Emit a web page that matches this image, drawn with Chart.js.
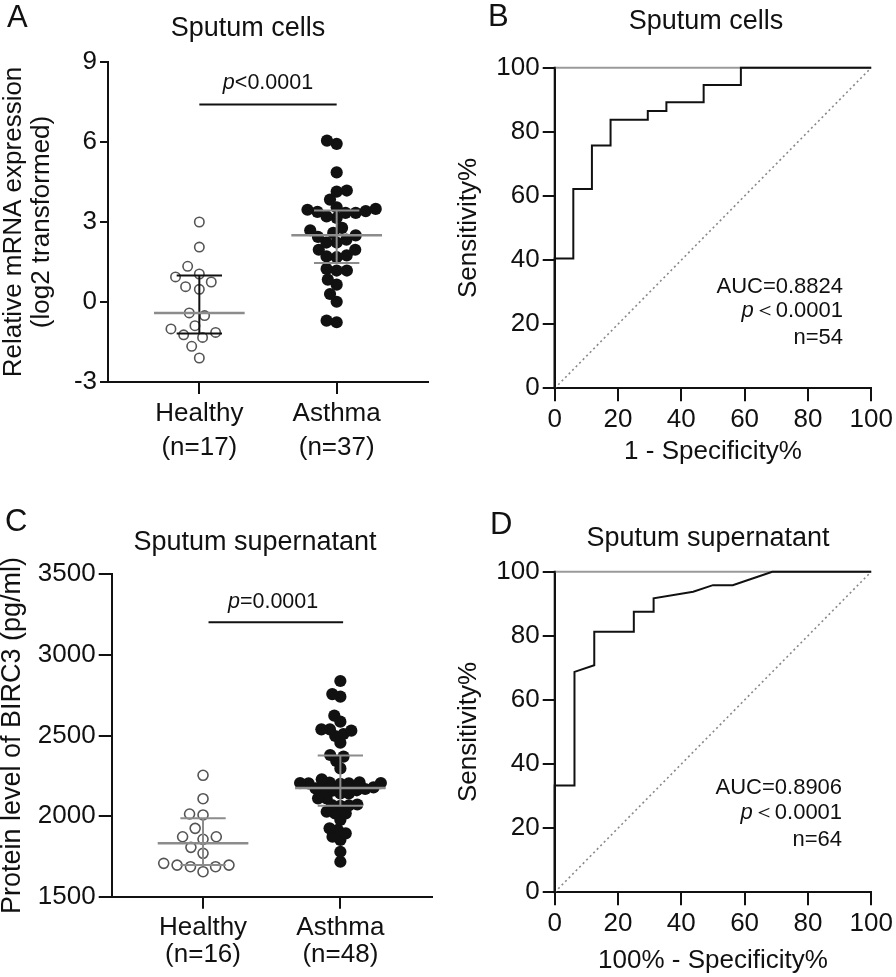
<!DOCTYPE html>
<html>
<head>
<meta charset="utf-8">
<script src="https://cdn.jsdelivr.net/npm/chart.js@4.4.1/dist/chart.umd.min.js"></script>
<style>
  html, body { margin: 0; padding: 0; background: #fff; }
  #page { position: relative; width: 896px; height: 977px; overflow: hidden;
          font-family: 'Liberation Sans', Arial, Helvetica, sans-serif; color: #111; }
  #page canvas { position: absolute; }
  .txt { position: absolute; white-space: nowrap; line-height: 1; }
  .letter { font-size: 31px; }
  .title { font-size: 27px; transform: translateX(-50%); }
</style>
</head>
<body>
<div id="page">
  <canvas id="chartA" width="448" height="490" style="left:0;top:0"></canvas>
  <canvas id="chartB" width="448" height="490" style="left:448px;top:0"></canvas>
  <canvas id="chartC" width="448" height="487" style="left:0;top:490px"></canvas>
  <canvas id="chartD" width="448" height="487" style="left:448px;top:490px"></canvas>

  <div class="txt letter" style="left:7px;top:0.5px">A</div>
  <div class="txt letter" style="left:488px;top:0.3px">B</div>
  <div class="txt letter" style="left:5px;top:504.8px">C</div>
  <div class="txt letter" style="left:490px;top:507.8px">D</div>

  <div class="txt title" style="left:248px;top:13.8px">Sputum cells</div>
  <div class="txt title" style="left:706px;top:7.1px">Sputum cells</div>
  <div class="txt title" style="left:255px;top:528.1px">Sputum supernatant</div>
  <div class="txt title" style="left:708px;top:523.6px">Sputum supernatant</div>
</div>

<script>
const FONT = "'Liberation Sans', Arial, Helvetica, sans-serif"
Chart.defaults.font.family = FONT
Chart.defaults.color = '#111'
Chart.defaults.animation = false

// ---------- data ----------
// A: relative BIRC3 mRNA in sputum cells (log2)
const groupLabelsA = [['Healthy', '(n=17)'], ['Asthma', '(n=37)']]
const healthyA = [3.0, 2.06, 1.34, 1.05, 0.94, 0.75, 0.575, 0.475, -0.41, -0.51,
  -0.89, -1.01, -1.14, -1.23, -1.33, -1.66, -2.1]
const asthmaA = [6.05, 5.93, 4.86, 4.18, 4.14, 3.84, 3.55, 3.49, 3.46, 3.41, 3.38,
  3.34, 3.34, 3.21, 3.15, 2.78, 2.69, 2.59, 2.5, 2.44, 2.34, 2.23, 2.23, 1.96, 1.96,
  1.75, 1.71, 1.68, 1.24, 1.18, 1.18, 0.84, 0.65, 0.3, 0.01, -0.7, -0.76]
const pLabelA = 'p<0.0001'

// B: ROC, sputum cells
const rocFprB = [0, 0, 5.88, 5.88, 11.76, 11.76, 17.65, 17.65, 29.41, 29.41, 35.29, 35.29,
  47.06, 47.06, 58.82, 58.82, 100]
const rocTprB = [0, 40.5, 40.5, 62.2, 62.2, 75.7, 75.7, 83.8, 83.8, 86.5, 86.5, 89.2,
  89.2, 94.6, 94.6, 100, 100]
const statsB = ['AUC=0.8824', '＜0.0001', 'n=54']

// C: BIRC3 protein in sputum supernatant (pg/ml)
const groupLabelsC = [['Healthy', '(n=16)'], ['Asthma', '(n=48)']]
const healthyC = [2253, 2108, 2013, 2007, 1924, 1872, 1872, 1856, 1806, 1769, 1707,
  1696, 1696, 1686, 1686, 1655]
const asthmaC = [2838, 2757, 2741, 2623, 2586, 2538, 2538, 2530, 2509, 2497, 2455,
  2379, 2369, 2342, 2296, 2228, 2205, 2203, 2200, 2208, 2210, 2205, 2203,
  2178, 2172, 2165, 2160, 2168, 2158, 2141, 2141, 2110, 2110,
  2069, 2066, 2072, 2064, 2027, 2017, 2017, 1976, 1924, 1914, 1893, 1872, 1852, 1779, 1717]
const pLabelC = '=0.0001'

// D: ROC, sputum supernatant
const rocFprD = [0, 0, 6.25, 6.25, 12.5, 12.5, 25, 25, 31.25, 31.25, 43.75, 50, 56.25,
  62.5, 68.75, 100]
const rocTprD = [0, 33.3, 33.3, 68.75, 70.8, 81.25, 81.25, 87.5, 87.5, 91.7, 93.75, 95.8,
  95.8, 97.9, 100, 100]
const statsD = ['AUC=0.8906', '＜0.0001', 'n=64']

// ---------- helpers ----------
const INK = '#111'
const GREY = '#8c8c8c'

// (n+1)p percentile, as GraphPad Prism does it
function quantile(sorted, p) {
  const pos = (sorted.length + 1) * p
  const lo = Math.floor(pos)
  if (lo < 1) return sorted[0]
  if (lo >= sorted.length) return sorted[sorted.length - 1]
  return sorted[lo - 1] + (pos - lo) * (sorted[lo] - sorted[lo - 1])
}

// simple beeswarm: each dot goes as near the group centre as it can without overlap
function swarm(values, center, pxPerX, pxPerY, diam) {
  const placed = []
  values.slice().sort((a, b) => a - b).forEach(v => {
    const py = v * pxPerY
    const near = placed.filter(p => Math.abs(p.py - py) < diam)
    const cands = [0]
    near.forEach(p => {
      const dx = Math.sqrt(diam * diam - (p.py - py) ** 2)
      cands.push(p.px + dx, p.px - dx)
    })
    cands.sort((a, b) => Math.abs(a) - Math.abs(b) || a - b)
    const px = cands.find(c => near.every(p => (p.px - c) ** 2 + (p.py - py) ** 2 >= diam * diam - 0.01))
    placed.push({ px, py, v })
  })
  return placed.map(p => ({ x: center + p.px / pxPerX, y: p.v }))
}

function summaryLines(values, c) {
  const s = values.slice().sort((a, b) => a - b)
  const med = quantile(s, 0.5), q1 = quantile(s, 0.25), q3 = quantile(s, 0.75)
  return {
    median: [{ x: c - 0.33, y: med }, { x: c + 0.33, y: med }],
    iqr: [{ x: c - 0.165, y: q3 }, { x: c + 0.165, y: q3 }, { x: c, y: null },
          { x: c, y: q3 }, { x: c, y: q1 }, { x: c, y: null },
          { x: c - 0.165, y: q1 }, { x: c + 0.165, y: q1 }]
  }
}

function lineDs(data, color, width, extra) {
  return Object.assign({ data, showLine: true, borderColor: color, borderWidth: width,
    pointRadius: 0, fill: false, spanGaps: false, tension: 0 }, extra || {})
}

// draws significance bars, the small stats texts and (for the ROC panels) the y axis line
const notes = {
  id: 'notes',
  afterDatasetsDraw(chart, args, opts) {
    const { ctx, chartArea, scales: { x, y } } = chart
    ctx.save()
    if (opts.leftAxis) {
      ctx.strokeStyle = INK
      ctx.lineWidth = 2
      ctx.beginPath()
      ctx.moveTo(chartArea.left, chartArea.top - 1)
      ctx.lineTo(chartArea.left, chartArea.bottom + 1)
      ctx.stroke()
    }
    ;(opts.bars || []).forEach(b => {
      ctx.strokeStyle = INK
      ctx.lineWidth = 2
      ctx.beginPath()
      ctx.moveTo(x.getPixelForValue(b.from), y.getPixelForValue(b.at))
      ctx.lineTo(x.getPixelForValue(b.to), y.getPixelForValue(b.at))
      ctx.stroke()
    })
    ;(opts.texts || []).forEach(t => {
      const fonts = t.parts.map(p => (p[1] ? 'italic ' : '') + t.size + 'px ' + FONT)
      const widths = t.parts.map((p, i) => { ctx.font = fonts[i]; return ctx.measureText(p[0]).width })
      const total = widths.reduce((a, b) => a + b, 0)
      let px = x.getPixelForValue(t.x)
      if (t.align === 'center') px -= total / 2
      if (t.align === 'right') px -= total
      const py = y.getPixelForValue(t.y)
      ctx.fillStyle = INK
      ctx.textAlign = 'left'
      ctx.textBaseline = 'alphabetic'
      t.parts.forEach((p, i) => { ctx.font = fonts[i]; ctx.fillText(p[0], px, py); px += widths[i] })
    })
    ctx.restore()
  }
}

function axisBase(tickLen) {
  return {
    grid: { drawOnChartArea: false, drawTicks: true, tickLength: tickLen, color: INK, lineWidth: 2 },
    border: { display: true, color: INK, width: 2 }
  }
}

// ---------- dot plots (A, C) ----------
function dotChart(id, cfg) {
  const xMin = 0.335, xMax = 2.665
  const pxX = 320 / (xMax - xMin)
  const pxY = cfg.plotH / (cfg.yMax - cfg.yMin)
  const h = summaryLines(cfg.healthy, 1)
  const a = summaryLines(cfg.asthma, 2)
  return new Chart(document.getElementById(id), {
    type: 'scatter',
    data: {
      datasets: [
        lineDs(h.median, GREY, 2.5),
        lineDs(a.median, GREY, 2.5),
        lineDs(h.iqr, cfg.healthyBar, 2),
        lineDs(a.iqr, GREY, 2),
        {
          data: swarm(cfg.healthy, 1, pxX, pxY, cfg.diamH),
          pointRadius: cfg.rH, pointBorderWidth: 1.6,
          pointBorderColor: '#555', pointBackgroundColor: '#fff'
        },
        {
          data: swarm(cfg.asthma, 2, pxX, pxY, cfg.diamA),
          pointRadius: 6.1, pointBorderWidth: 0,
          pointBorderColor: INK, pointBackgroundColor: INK
        }
      ]
    },
    options: {
      responsive: false,
      events: [],
      layout: { padding: cfg.padding },
      plugins: {
        legend: { display: false },
        tooltip: { enabled: false },
        notes: cfg.notes
      },
      scales: {
        x: Object.assign(axisBase(12), {
          type: 'linear', min: xMin, max: xMax,
          afterBuildTicks: s => { s.ticks = [{ value: 1 }, { value: 2 }] },
          afterFit: s => { s.height = cfg.xH },
          ticks: {
            callback: v => cfg.labels[v - 1],
            font: { size: 26, lineHeight: cfg.labelLH },
            padding: cfg.labelPad, color: INK,
            maxRotation: 0, minRotation: 0, autoSkip: false
          }
        }),
        y: Object.assign(axisBase(cfg.yTickLen), {
          min: cfg.yMin, max: cfg.yMax,
          afterFit: s => { s.width = cfg.yW },
          ticks: { stepSize: cfg.yStep, font: { size: 26 }, padding: 3, color: INK,
            callback: v => String(v) },
          title: { display: true, text: cfg.yTitle, color: INK,
            font: { size: cfg.yTitleSize, lineHeight: cfg.yTitleLH }, padding: { top: 0, bottom: 0 } }
        })
      }
    },
    plugins: [notes]
  })
}

dotChart('chartA', {
  healthy: healthyA, asthma: asthmaA, labels: groupLabelsA,
  yMin: -3, yMax: 9, yStep: 3, plotH: 320,
  padding: { left: 0, top: 62, right: 20, bottom: 18 },
  xH: 90, yW: 108, yTickLen: 8, labelLH: '34px', labelPad: 3,
  yTitle: ['Relative mRNA expression', '(log2 transformed)'], yTitleSize: 26, yTitleLH: '28px',
  healthyBar: INK, rH: 4.7, diamH: 14, diamA: 10.2,
  notes: {
    bars: [{ from: 1, to: 2, at: 7.41 }],
    texts: [{ x: 1.5, y: 7.97, size: 21.5, align: 'center', parts: [['p', true], [pLabelA.slice(1), false]] }]
  }
})

dotChart('chartC', {
  healthy: healthyC, asthma: asthmaC, labels: groupLabelsC,
  yMin: 1500, yMax: 3500, yStep: 500, plotH: 322.4,
  padding: { left: 0, top: 84.3, right: 16.3, bottom: 10.3 },
  xH: 70, yW: 111.7, yTickLen: 13, labelLH: '27px', labelPad: 6,
  yTitle: 'Protein level of BIRC3 (pg/ml)', yTitleSize: 27, yTitleLH: '26px',
  healthyBar: GREY, rH: 5, diamH: 13.5, diamA: 8.5,
  notes: {
    bars: [{ from: 1.04, to: 2.02, at: 3202 }],
    texts: [{ x: 1.51, y: 3289, size: 21.5, align: 'center', parts: [['p', true], [pLabelC, false]] }]
  }
})

// ---------- ROC curves (B, D) ----------
function rocChart(id, cfg) {
  const curve = cfg.fpr.map((f, i) => ({ x: f, y: cfg.tpr[i] }))
  return new Chart(document.getElementById(id), {
    type: 'scatter',
    data: {
      datasets: [
        lineDs(curve, INK, 2, { clip: 4 }),
        lineDs([{ x: 0, y: 100 }, { x: 100, y: 100 }], '#9a9a9a', 2, { clip: 4 }),
        lineDs([{ x: 0, y: 0 }, { x: 100, y: 100 }], '#888', 1.6, { borderDash: [2, 3] })
      ]
    },
    options: {
      responsive: false,
      events: [],
      layout: { padding: cfg.padding },
      plugins: {
        legend: { display: false },
        tooltip: { enabled: false },
        notes: {
          leftAxis: true,
          texts: [
            { x: cfg.statX, y: cfg.statY[0], size: 22, align: 'right', parts: [[cfg.stats[0], false]] },
            { x: cfg.statX, y: cfg.statY[1], size: 22, align: 'right', parts: [['p', true], [cfg.stats[1], false]] },
            { x: cfg.statX, y: cfg.statY[2], size: 22, align: 'right', parts: [[cfg.stats[2], false]] }
          ]
        }
      },
      scales: {
        x: Object.assign(axisBase(13), {
          type: 'linear', min: 0, max: 100,
          afterFit: s => { s.height = cfg.xH },
          ticks: { stepSize: 20, font: { size: 26 }, padding: 3.1, color: INK,
            maxRotation: 0, minRotation: 0, autoSkip: false },
          title: { display: true, text: cfg.xTitle, color: INK, font: { size: 26 },
            padding: { top: 0, bottom: cfg.xTitlePad } }
        }),
        y: Object.assign(axisBase(12), {
          type: 'linear', position: 'left', min: 0, max: 100,
          afterFit: s => { s.width = 106.7 },
          ticks: { stepSize: 20, font: { size: 26 }, padding: 3, color: INK },
          title: { display: true, text: 'Sensitivity%', color: INK, font: { size: 26 },
            padding: { top: 5.4, bottom: 0 } }
        })
      }
    },
    plugins: [notes]
  })
}

rocChart('chartB', {
  fpr: rocFprB, tpr: rocTprB, stats: statsB,
  statX: 91.1, statY: [29.7, 22.3, 13.8],
  padding: { left: 0, top: 67.7, right: 21.3, bottom: 21.7 },
  xH: 80, xTitle: '1 - Specificity%', xTitlePad: 0.7
})

rocChart('chartD', {
  fpr: rocFprD, tpr: rocTprD, stats: statsD,
  statX: 90.8, statY: [30.7, 22.8, 14.4],
  padding: { left: 0, top: 81.7, right: 21.3, bottom: 0 },
  xH: 84.7, xTitle: '100% - Specificity%', xTitlePad: 0.4
})
</script>
</body>
</html>
